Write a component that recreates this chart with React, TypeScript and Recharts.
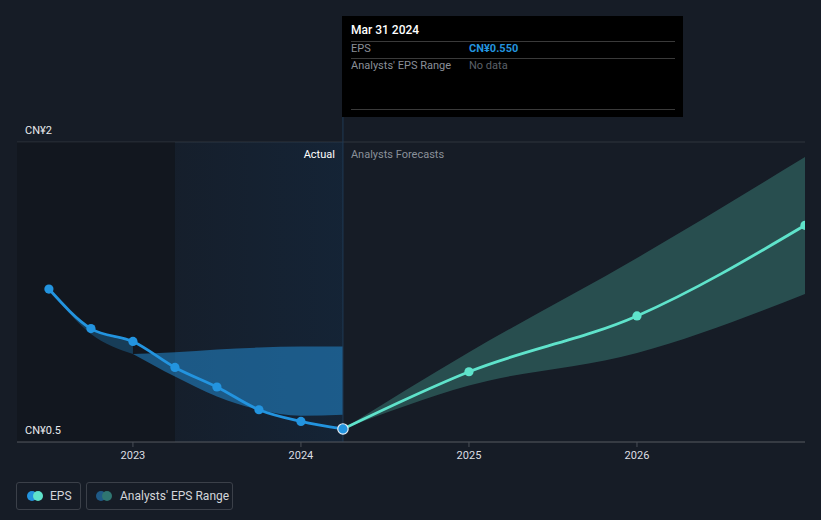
import React from "react";
import {
  ComposedChart,
  Line,
  Area,
  XAxis,
  YAxis,
  CartesianGrid,
  ReferenceArea,
  ReferenceLine,
} from "recharts";

// quarter ends as decimal years
const dates = [2022.5, 2022.75, 2023.0, 2023.25, 2023.5, 2023.75, 2024.0, 2024.25, 2025.0, 2026.0, 2027.0];
const epsActual = [1.257, 1.057, 0.992, 0.861, 0.762, 0.647, 0.588, 0.55, null, null, null];
const epsForecast = [null, null, null, null, null, null, null, 0.55, 0.839, 1.121, 1.579];
const earlyRangeLow = [1.257, 1.03, 0.929, null, null, null, null, null, null, null, null];
const earlyRangeHigh = [1.257, 1.057, 0.992, null, null, null, null, null, null, null, null];
const pastRangeLow = [null, null, 0.929, 0.815, 0.714, 0.647, 0.617, 0.622, null, null, null];
const pastRangeHigh = [null, null, 0.929, 0.937, 0.951, 0.961, 0.966, 0.966, null, null, null];
const forecastLow = [null, null, null, null, null, null, null, 0.55, 0.769, 0.934, 1.232];
const forecastHigh = [null, null, null, null, null, null, null, 0.55, 0.937, 1.414, 1.924];

const xTicks = [2023, 2024, 2025, 2026];
const xDomain = [2022.31, 2027];
const yTicks = [0.484, 1.115, 1.747, 2];
const yTickLabels = ["CN¥0.5", "", "", "CN¥2"];
const yDomain = [0.484, 2];
const actualStart = 2023.25;
const lastActualIndex = 7;
const tooltipDate = "Mar 31 2024";

const data = dates.map((d, i) => ({
  d,
  actual: epsActual[i],
  forecast: epsForecast[i],
  early: earlyRangeLow[i] != null ? [earlyRangeLow[i], earlyRangeHigh[i]] : null,
  past: pastRangeLow[i] != null ? [pastRangeLow[i], pastRangeHigh[i]] : null,
  fc: forecastLow[i] != null ? [forecastLow[i], forecastHigh[i]] : null,
}));

const FONT = "Roboto, 'Noto Sans', sans-serif";
const BLUE = "#2394df";
const TEAL = "#5fe3cb";
const BG = "#161c26";

const ActualDot = (props: any) => {
  const { cx, cy, index, payload } = props;
  if (payload.actual == null) return <g key={index} />;
  if (index === lastActualIndex) {
    return <circle key={index} cx={cx} cy={cy} r={5.2} fill={BLUE} stroke="#e6eef6" strokeWidth={1.2} />;
  }
  return <circle key={index} cx={cx} cy={cy} r={4.6} fill={BLUE} />;
};

const ForecastDot = (props: any) => {
  const { cx, cy, index, payload } = props;
  if (payload.forecast == null || index === lastActualIndex) return <g key={index} />;
  return <circle key={index} cx={cx} cy={cy} r={4.6} fill={TEAL} />;
};

const TickLabel = (props: any) => {
  const { viewBox, text } = props;
  return (
    <text x={25} y={viewBox.y - 8} fill="#e8eaed" fontSize={11} fontFamily={FONT}>
      {text}
    </text>
  );
};

const DividerLabel = (props: any) => {
  const { viewBox } = props;
  const x = viewBox.x;
  const y = viewBox.y;
  return (
    <g fontFamily={FONT} fontSize={11}>
      <text x={x - 8} y={y + 16} textAnchor="end" fill="#ffffff">
        Actual
      </text>
      <text x={x + 8} y={y + 16} textAnchor="start" fill="#8a9099">
        Analysts Forecasts
      </text>
    </g>
  );
};

export default function App() {
  const lastEps = epsActual[lastActualIndex] as number;
  return (
    <div
      style={{
        position: "fixed",
        left: 0,
        top: 0,
        width: 821,
        height: 520,
        background: BG,
        fontFamily: FONT,
        overflow: "hidden",
      }}
    >
      <ComposedChart
        width={821}
        height={520}
        data={data}
        margin={{ top: 142, right: 16, bottom: 48, left: 17 }}
      >
        <defs>
          <linearGradient id="actualGlow" x1="0" y1="0" x2="1" y2="0">
            <stop offset="0%" stopColor="#0f4070" stopOpacity={0.15} />
            <stop offset="100%" stopColor="#0f4070" stopOpacity={0.42} />
          </linearGradient>
        </defs>
        <ReferenceArea x1={xDomain[0]} x2={actualStart} y1={yDomain[0]} y2={yDomain[1]} fill="#0a0d12" fillOpacity={0.3} stroke="none" />
        <ReferenceArea x1={actualStart} x2={dates[lastActualIndex]} y1={yDomain[0]} y2={yDomain[1]} fill="url(#actualGlow)" stroke="none" />
        <CartesianGrid vertical={false} stroke="#2e343d" />
        <XAxis
          type="number"
          dataKey="d"
          domain={xDomain}
          ticks={xTicks}
          allowDataOverflow
          height={30}
          axisLine={{ stroke: "#4a4f57" }}
          tickLine={{ stroke: "#4a4f57" }}
          tickSize={5}
          tick={{ fill: "#dcdee2", fontSize: 11, fontFamily: FONT }}
          tickMargin={4}
        />
        <YAxis
          type="number"
          domain={yDomain}
          ticks={yTicks}
          allowDataOverflow
          width={0}
          axisLine={false}
          tickLine={false}
          tick={false}
        />
        {yTicks.map((t, i) =>
          yTickLabels[i] ? (
            <ReferenceLine
              key={"yl" + i}
              y={t}
              stroke="none"
              ifOverflow="visible"
              label={<TickLabel text={yTickLabels[i]} />}
            />
          ) : null
        )}
        <ReferenceLine
          segment={[
            { x: dates[lastActualIndex], y: 2.126 },
            { x: dates[lastActualIndex], y: yDomain[0] },
          ]}
          stroke="#1f3a55"
          strokeWidth={1}
          ifOverflow="visible"
        />
        <ReferenceLine x={dates[lastActualIndex]} stroke="none" label={<DividerLabel />} />
        <Area
          type="monotone"
          dataKey="early"
          stroke="none"
          fill={BLUE}
          fillOpacity={0.3}
          isAnimationActive={false}
          connectNulls={false}
          activeDot={false}
        />
        <Area
          type="monotone"
          dataKey="past"
          stroke="none"
          fill={BLUE}
          fillOpacity={0.5}
          isAnimationActive={false}
          connectNulls={false}
          activeDot={false}
        />
        <Area
          type="monotone"
          dataKey="fc"
          stroke="none"
          fill={TEAL}
          fillOpacity={0.25}
          isAnimationActive={false}
          connectNulls={false}
          activeDot={false}
        />
        <Line
          type="monotone"
          dataKey="forecast"
          stroke={TEAL}
          strokeWidth={2.8}
          dot={<ForecastDot />}
          isAnimationActive={false}
          connectNulls={false}
        />
        <Line
          type="monotone"
          dataKey="actual"
          stroke={BLUE}
          strokeWidth={2.8}
          dot={<ActualDot />}
          isAnimationActive={false}
          connectNulls={false}
        />
      </ComposedChart>

      {/* static tooltip for the last actual point */}
      <div
        style={{
          position: "absolute",
          left: 342,
          top: 16,
          width: 341,
          height: 101,
          background: "#000",
          fontSize: 11,
        }}
      >
        <div style={{ position: "absolute", left: 9, top: 7, color: "#fff", fontSize: 12, fontWeight: 500 }}>
          {tooltipDate}
        </div>
        <div style={{ position: "absolute", left: 9, top: 25, width: 324, height: 1, background: "#3a3a3a" }} />
        <div style={{ position: "absolute", left: 9, top: 26, color: "#8a8f98" }}>EPS</div>
        <div style={{ position: "absolute", left: 127, top: 26, color: BLUE, fontWeight: 700 }}>
          {"CN¥" + lastEps.toFixed(3)}
        </div>
        <div style={{ position: "absolute", left: 9, top: 42, width: 324, height: 1, background: "#3a3a3a" }} />
        <div style={{ position: "absolute", left: 9, top: 43, color: "#8a8f98" }}>Analysts' EPS Range</div>
        <div style={{ position: "absolute", left: 127, top: 43, color: "#5c6169" }}>No data</div>
        <div style={{ position: "absolute", left: 9, top: 93, width: 324, height: 1, background: "#3a3a3a" }} />
      </div>

      {/* legend */}
      <div
        style={{
          position: "absolute",
          left: 16,
          top: 482,
          width: 63,
          height: 26,
          border: "1px solid #3b4049",
          borderRadius: 3,
        }}
      >
        <svg width={20} height={12} style={{ position: "absolute", left: 9, top: 7 }}>
          <circle cx={6} cy={6} r={5} fill={BLUE} />
          <circle cx={12} cy={6} r={5} fill={TEAL} />
        </svg>
        <span style={{ position: "absolute", left: 33, top: 6, color: "#d4d6da", fontSize: 12 }}>EPS</span>
      </div>
      <div
        style={{
          position: "absolute",
          left: 86,
          top: 482,
          width: 145,
          height: 26,
          border: "1px solid #3b4049",
          borderRadius: 3,
        }}
      >
        <svg width={20} height={12} style={{ position: "absolute", left: 8, top: 7 }}>
          <circle cx={6} cy={6} r={5} fill="#1f5a87" />
          <circle cx={12} cy={6} r={5} fill="#2f7571" />
        </svg>
        <span style={{ position: "absolute", left: 33, top: 6, color: "#d4d6da", fontSize: 12 }}>
          Analysts' EPS Range
        </span>
      </div>
    </div>
  );
}
